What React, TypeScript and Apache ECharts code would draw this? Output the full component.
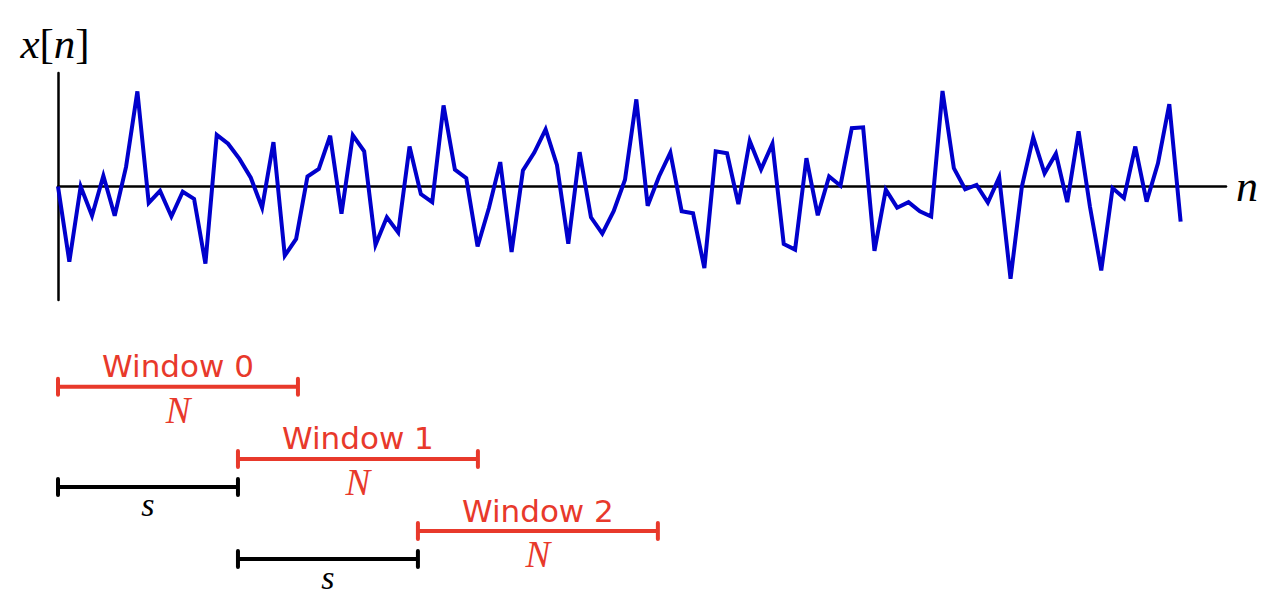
import React, { useEffect, useRef } from "react";
import * as echarts from "echarts";

// Signal samples x[n], n = 0..99
const signal: number[] = [
  0, -1.88, 0, -0.73, 0.27, -0.73, 0.49, 2.38, -0.41, -0.11,
  -0.75, -0.13, -0.31, -1.93, 1.29, 1.07, 0.69, 0.22, -0.53, 1.11,
  -1.73, -1.31, 0.25, 0.44, 1.27, -0.68, 1.28, 0.88, -1.46, -0.77,
  -1.15, 1.0, -0.19, -0.39, 2.03, 0.42, 0.21, -1.5, -0.54, 0.61,
  -1.64, 0.4, 0.85, 1.43, 0.54, -1.43, 0.86, -0.77, -1.18, -0.62,
  0.17, 2.18, -0.48, 0.25, 0.85, -0.62, -0.67, -2.04, 0.88, 0.83,
  -0.44, 1.14, 0.43, 1.07, -1.44, -1.58, 0.71, -0.72, 0.25, 0.02,
  1.46, 1.48, -1.61, -0.08, -0.53, -0.39, -0.62, -0.75, 2.39, 0.46,
  -0.07, 0.04, -0.4, 0.23, -2.31, 0, 1.23, 0.33, 0.82, -0.39,
  1.38, -0.5, -2.1, -0.04, -0.29, 1.0, -0.38, 0.58, 2.06, -0.88,
];

// Window parameters (in samples)
const windowLength = 21.16; // N
const stride = 15.87; // s
const windowLabels = ["Window 0", "Window 1", "Window 2"];
const strideRows = [1, 2];

const RED = "#e8392b";
const BLUE = "#0000cc";

export default function App() {
  const ref = useRef<HTMLDivElement>(null);

  useEffect(() => {
    if (!ref.current) return;
    const chart = echarts.init(ref.current, null, { renderer: "svg" });

    const signalData = signal.map((v, i) => [i, v]);
    const windowData = windowLabels.map((lab, i) => [
      i * stride,
      i * stride + windowLength,
      i,
      lab,
    ]);
    const strideData = strideRows.map((r) => [(r - 1) * stride, r * stride, r]);

    const serif = "Liberation Serif";

    const bracket = (
      x0: number,
      x1: number,
      y: number,
      color: string
    ): any[] => [
      {
        type: "line",
        shape: { x1: x0, y1: y, x2: x1, y2: y },
        style: { stroke: color, lineWidth: 4 },
      },
      {
        type: "line",
        shape: { x1: x0, y1: y - 8, x2: x0, y2: y + 8 },
        style: { stroke: color, lineWidth: 4, lineCap: "round" },
      },
      {
        type: "line",
        shape: { x1: x1, y1: y - 8, x2: x1, y2: y + 8 },
        style: { stroke: color, lineWidth: 4, lineCap: "round" },
      },
    ];

    const option: any = {
      animation: false,
      grid: [
        { left: 58, right: 58, top: 73, bottom: 304 },
        { left: 58, right: 58, top: 340, bottom: 0 },
      ],
      xAxis: [
        {
          type: "value",
          gridIndex: 0,
          min: 0,
          max: 103,
          axisLine: {
            onZero: true,
            lineStyle: { color: "#000", width: 2.5 },
          },
          axisTick: { show: false },
          axisLabel: { show: false },
          splitLine: { show: false },
          name: "n",
          nameLocation: "end",
          nameGap: 10,
          nameTextStyle: {
            fontFamily: serif,
            fontStyle: "italic",
            fontSize: 44,
            color: "#000",
            padding: [0, 0, 10, 0],
          },
        },
        {
          type: "value",
          gridIndex: 1,
          min: 0,
          max: 103,
          show: false,
        },
      ],
      yAxis: [
        {
          type: "value",
          gridIndex: 0,
          min: -2.84,
          max: 2.84,
          axisLine: {
            show: true,
            onZero: false,
            lineStyle: { color: "#000", width: 2.5 },
          },
          axisTick: { show: false },
          axisLabel: { show: false },
          splitLine: { show: false },
          name: "{i|x}{b|[}{i|n}{b|]}",
          nameLocation: "end",
          nameGap: 8,
          nameTextStyle: {
            padding: [0, 6, 0, 0],
            rich: {
              i: {
                fontFamily: serif,
                fontStyle: "italic",
                fontSize: 43,
                color: "#000",
              },
              b: {
                fontFamily: serif,
                fontSize: 43,
                color: "#000",
              },
            },
          },
        },
        {
          type: "value",
          gridIndex: 1,
          min: -0.647,
          max: 3.01,
          inverse: true,
          show: false,
        },
      ],
      series: [
        {
          type: "line",
          xAxisIndex: 0,
          yAxisIndex: 0,
          data: signalData,
          showSymbol: false,
          symbol: "none",
          lineStyle: { color: BLUE, width: 4, join: "miter", miterLimit: 10 },
          z: 3,
        },
        {
          type: "custom",
          xAxisIndex: 1,
          yAxisIndex: 1,
          data: windowData,
          encode: { x: [0, 1], y: 2 },
          renderItem: (params: any, api: any) => {
            const s = api.coord([api.value(0), api.value(2)]);
            const e = api.coord([api.value(1), api.value(2)]);
            const label = windowLabels[params.dataIndex];
            const mx = (s[0] + e[0]) / 2;
            return {
              type: "group",
              children: [
                ...bracket(s[0], e[0], s[1], RED),
                {
                  type: "text",
                  x: mx,
                  y: s[1] - 5,
                  style: {
                    text: label,
                    fill: RED,
                    font: '31px "DejaVu Sans"',
                    align: "center",
                    verticalAlign: "bottom",
                  },
                },
                {
                  type: "text",
                  x: mx,
                  y: s[1] + 5,
                  style: {
                    text: "N",
                    fill: RED,
                    font: 'italic 37px "Liberation Serif"',
                    align: "center",
                    verticalAlign: "top",
                  },
                },
              ],
            };
          },
        },
        {
          type: "custom",
          xAxisIndex: 1,
          yAxisIndex: 1,
          data: strideData,
          encode: { x: [0, 1], y: 2 },
          renderItem: (params: any, api: any) => {
            const s = api.coord([api.value(0), api.value(2)]);
            const e = api.coord([api.value(1), api.value(2)]);
            const y = s[1] + 28;
            const mx = (s[0] + e[0]) / 2;
            return {
              type: "group",
              children: [
                ...bracket(s[0], e[0], y, "#000"),
                {
                  type: "text",
                  x: mx,
                  y: y + 1,
                  style: {
                    text: "s",
                    fill: "#000",
                    font: 'italic 34px "Liberation Serif"',
                    align: "center",
                    verticalAlign: "top",
                  },
                },
              ],
            };
          },
        },
      ],
    };

    chart.setOption(option);
    return () => chart.dispose();
  }, []);

  return (
    <div
      ref={ref}
      style={{
        position: "fixed",
        left: 0,
        top: 0,
        width: 1284,
        height: 604,
        background: "#fff",
      }}
    />
  );
}
